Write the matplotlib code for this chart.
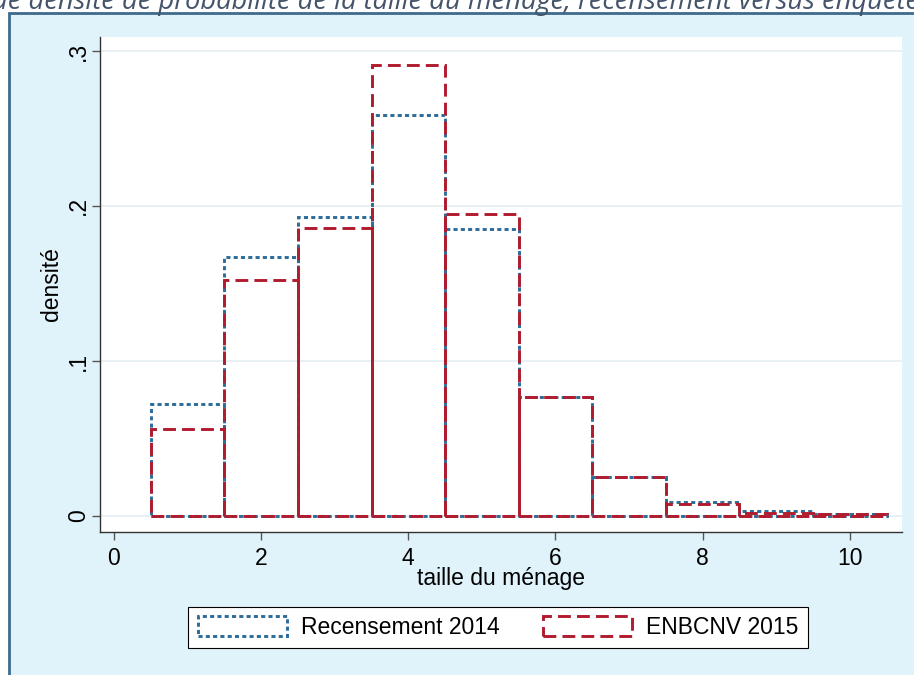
import numpy as np
import matplotlib
matplotlib.use("Agg")
import matplotlib.pyplot as plt
from matplotlib.patches import Rectangle, Patch

# Data
# ===================================
household_size = [1, 2, 3, 4, 5, 6, 7, 8, 9, 10]
recensement_2014 = [0.072, 0.167, 0.193, 0.259, 0.185, 0.077, 0.025, 0.009, 0.003, 0.001]
enbcnv_2015 = [0.056, 0.152, 0.186, 0.291, 0.195, 0.077, 0.025, 0.008, 0.002, 0.001]
y_ticks = [0, 0.1, 0.2, 0.3]
y_tick_labels = ["0", ".1", ".2", ".3"]
x_ticks = [0, 2, 4, 6, 8, 10]
series_labels = ["Recensement 2014", "ENBCNV 2015"]
caption = "de densité de probabilité de la taille du ménage, recensement versus enquête"

BLUE = "#2b6c99"
RED = "#b01c2e"
FRAME_BG = "#e1f3fa"
FRAME_EDGE = "#3f6a8c"
FS = 16.5
LW = 2.1

plt.rcParams["font.family"] = ["Liberation Sans", "DejaVu Sans"]

W, H = 914, 675
fig = plt.figure(figsize=(W / 100, H / 100), dpi=100)
fig.patch.set_facecolor("white")

# Stata-style outer graph region
frame = Rectangle((9 / W, -0.01), 1.0, 1 - 13 / H + 0.01, transform=fig.transFigure,
                  facecolor=FRAME_BG, edgecolor=FRAME_EDGE, linewidth=2, zorder=-10)
fig.patches.append(frame)

ax = fig.add_axes([100 / W, 1 - 532 / H, (902 - 100) / W, (532 - 37) / H])
ax.set_facecolor("white")

# Histogram bars (outline only)
blue_dash = (0, (1.4, 1.1))
red_dash = (0, (4.4, 2.1))
ax.bar(household_size, recensement_2014, width=1.0, fill=False, edgecolor=BLUE,
       linestyle=blue_dash, linewidth=LW, zorder=3)
ax.bar(household_size, enbcnv_2015, width=1.0, fill=False, edgecolor=RED,
       linestyle=red_dash, linewidth=LW, zorder=4)

ax.set_xlim(-0.19, 10.71)
ax.set_ylim(-0.0103, 0.309)

ax.set_yticks(y_ticks)
ax.set_yticklabels(y_tick_labels, rotation=90, va="center", fontsize=FS)
ax.set_xticks(x_ticks)
ax.set_xticklabels([str(t) for t in x_ticks], fontsize=FS)
ax.tick_params(axis="both", direction="out", length=6, width=1, color="#555555")
ax.tick_params(axis="x", pad=5)
ax.tick_params(axis="y", pad=1)

ax.grid(True, axis="y", color="#e6eff2", linewidth=1.3, zorder=1)
ax.set_axisbelow(True)

for side in ["top", "right"]:
    ax.spines[side].set_visible(False)
for side in ["left", "bottom"]:
    ax.spines[side].set_color("#333333")
    ax.spines[side].set_linewidth(1)

ax.set_xlabel("taille du ménage", fontsize=FS, labelpad=-2)
ax.set_ylabel("densité", fontsize=FS, labelpad=3)

# Legend
handles = [Patch(facecolor="white", edgecolor=BLUE, linestyle=blue_dash, linewidth=LW),
           Patch(facecolor="white", edgecolor=RED, linestyle=red_dash, linewidth=LW)]
leg = fig.legend(handles, series_labels, loc="center", bbox_to_anchor=(498 / W, 1 - 627.5 / H),
                 ncol=2, frameon=True, fancybox=False, edgecolor="black",
                 handlelength=3.9, handleheight=1.0, handletextpad=0.6, columnspacing=1.9,
                 borderpad=0.4, borderaxespad=0, prop={"size": FS})
leg.get_frame().set_linewidth(0.8)
leg.get_frame().set_facecolor("white")
leg.get_frame().set_alpha(1)

# Cropped caption at the very top
txt = fig.text(-8 / W, 1 - 9 / H, caption, fontsize=16, style="italic", color="#44546a",
               family="Open Sans", ha="left", va="baseline")
fig.canvas.draw()
width_px = txt.get_window_extent().width
txt.set_fontsize(16 * 930 / width_px)

fig.savefig("out.png", dpi=100)
